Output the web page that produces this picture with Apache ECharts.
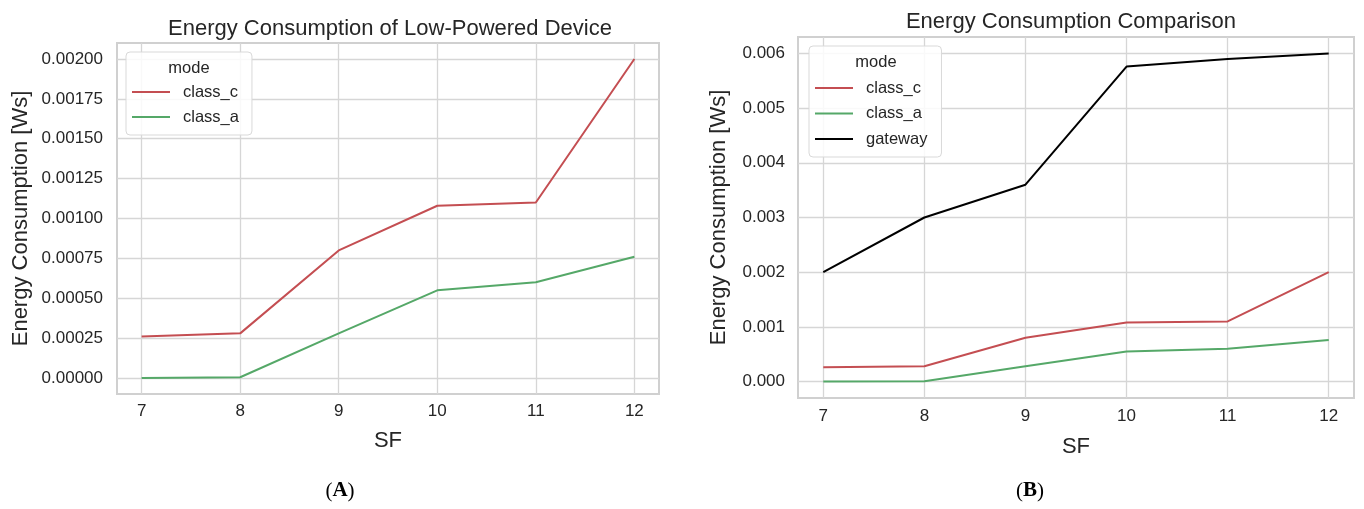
<!DOCTYPE html>
<html>
<head>
<meta charset="utf-8">
<script src="https://cdn.jsdelivr.net/npm/echarts@6/dist/echarts.min.js"></script>
<style>
html,body{margin:0;padding:0;background:#fff;}
#chart{width:1364px;height:509px;}
</style>
</head>
<body>
<div id="chart"></div>
<script>
// ---- data ----
const sf = [7, 8, 9, 10, 11, 12];
const classC = [0.00026, 0.00028, 0.0008, 0.00108, 0.0011, 0.002];
const classA = [0.0, 0.000005, 0.00028, 0.00055, 0.0006, 0.00076];
const gateway = [0.002, 0.003, 0.0036, 0.00576, 0.0059, 0.006];
const xTicks = [7, 8, 9, 10, 11, 12];
const yTicksA = [0, 0.00025, 0.0005, 0.00075, 0.001, 0.00125, 0.0015, 0.00175, 0.002];
const yTicksB = [0, 0.001, 0.002, 0.003, 0.004, 0.005, 0.006];
const titleA = 'Energy Consumption of Low-Powered Device';
const titleB = 'Energy Consumption Comparison';
const yName = 'Energy Consumption [Ws]';
const xName = 'SF';

const pairs = (ys) => sf.map((x, i) => [x, ys[i]]);

const TXT = '#262626';
const FONT = 'Liberation Sans, Arial, sans-serif';
const RED = '#C44E52', GREEN = '#55A868', BLACK = '#000000';
const TICK_FS = 17, NAME_FS = 22, LEG_FS = 16.5, TITLE_FS = 22;

function xAxisCfg(gi, margin, gap) {
  return {
    type: 'value', gridIndex: gi, min: 6.75, max: 12.25,
    name: xName, nameLocation: 'middle', nameGap: gap,
    nameTextStyle: { color: TXT, fontSize: NAME_FS, fontFamily: FONT },
    axisLine: { show: false }, axisTick: { show: false, customValues: xTicks },
    axisLabel: { color: TXT, fontSize: TICK_FS, fontFamily: FONT, margin: margin, customValues: xTicks },
    splitLine: { show: true, lineStyle: { color: '#d6d6d6', width: 1.3 } }
  };
}
function yAxisCfg(gi, ticks, dec, mn, mx, gap, margin) {
  return {
    type: 'value', gridIndex: gi, min: mn, max: mx,
    name: yName, nameLocation: 'middle', nameGap: gap,
    nameTextStyle: { color: TXT, fontSize: NAME_FS, fontFamily: FONT },
    axisLine: { show: false }, axisTick: { show: false, customValues: ticks },
    axisLabel: { color: TXT, fontSize: TICK_FS, fontFamily: FONT, margin: margin, customValues: ticks,
      formatter: (v) => v.toFixed(dec) },
    splitLine: { show: true, lineStyle: { color: '#d6d6d6', width: 1.3 } }
  };
}
function lineSeries(name, ys, color, xi) {
  return {
    type: 'line', name: name, xAxisIndex: xi, yAxisIndex: xi,
    data: pairs(ys), symbol: 'none', smooth: false,
    lineStyle: { color: color, width: 2 }, itemStyle: { color: color },
    emphasis: { disabled: true }
  };
}
const legendCommon = {
  orient: 'vertical', icon: 'rect', itemWidth: 38, itemHeight: 2,
  textStyle: { color: TXT, fontSize: LEG_FS, fontFamily: FONT, lineHeight: 18, padding: [0, 0, 0, 8] },
  backgroundColor: 'rgba(255,255,255,0.85)', borderColor: '#d9d9d9', borderWidth: 1, borderRadius: 4,
  selectedMode: false
};
const modeStyle = { text: 'mode', fill: TXT, fontSize: LEG_FS, fontFamily: FONT, textAlign: 'center', textVerticalAlign: 'middle' };
const capRich = {
  p: { fontFamily: 'Liberation Serif, serif', fontSize: 21, fill: '#000' },
  b: { fontFamily: 'Liberation Serif, serif', fontSize: 21, fontWeight: 'bold', fill: '#000' }
};

const chart = echarts.init(document.getElementById('chart'), null, { renderer: 'canvas' });
chart.setOption({
  animation: false,
  backgroundColor: '#ffffff',
  title: [
    { text: titleA, left: 385, top: 13, textAlign: 'center',
      textStyle: { color: TXT, fontSize: TITLE_FS, fontWeight: 'normal', fontFamily: FONT } },
    { text: titleB, left: 1066, top: 6, textAlign: 'center',
      textStyle: { color: TXT, fontSize: TITLE_FS, fontWeight: 'normal', fontFamily: FONT } }
  ],
  grid: [
    { left: 117, top: 43, width: 542, height: 351, show: true, borderColor: '#d0d0d0', borderWidth: 2, backgroundColor: 'transparent' },
    { left: 798, top: 37, width: 556, height: 361, show: true, borderColor: '#d0d0d0', borderWidth: 2, backgroundColor: 'transparent' }
  ],
  xAxis: [xAxisCfg(0, 9, 36), xAxisCfg(1, 10, 38)],
  yAxis: [
    yAxisCfg(0, yTicksA, 5, -0.0001, 0.0021, 85, 14),
    yAxisCfg(1, yTicksB, 3, -0.0003, 0.0063, 68, 13)
  ],
  legend: [
    Object.assign({}, legendCommon, { left: 126, top: 52, itemGap: 7, padding: [31, 13, 9, 6], data: ['class_c', 'class_a'] }),
    Object.assign({}, legendCommon, { left: 809, top: 46, itemGap: 7.5, padding: [33, 14, 9, 6], data: ['class_c', 'class_a', 'gateway'] })
  ],
  graphic: [
    { type: 'text', x: 189, y: 68, z: 100, style: modeStyle },
    { type: 'text', x: 876, y: 62, z: 100, style: modeStyle },
    { type: 'text', x: 340, y: 491, z: 100, style: { text: '{p|(}{b|A}{p|)}', textAlign: 'center', textVerticalAlign: 'middle', rich: capRich } },
    { type: 'text', x: 1030, y: 491, z: 100, style: { text: '{p|(}{b|B}{p|)}', textAlign: 'center', textVerticalAlign: 'middle', rich: capRich } }
  ],
  series: [
    lineSeries('class_c', classC, RED, 0),
    lineSeries('class_a', classA, GREEN, 0),
    lineSeries('class_c', classC, RED, 1),
    lineSeries('class_a', classA, GREEN, 1),
    lineSeries('gateway', gateway, BLACK, 1)
  ]
});
</script>
</body>
</html>
